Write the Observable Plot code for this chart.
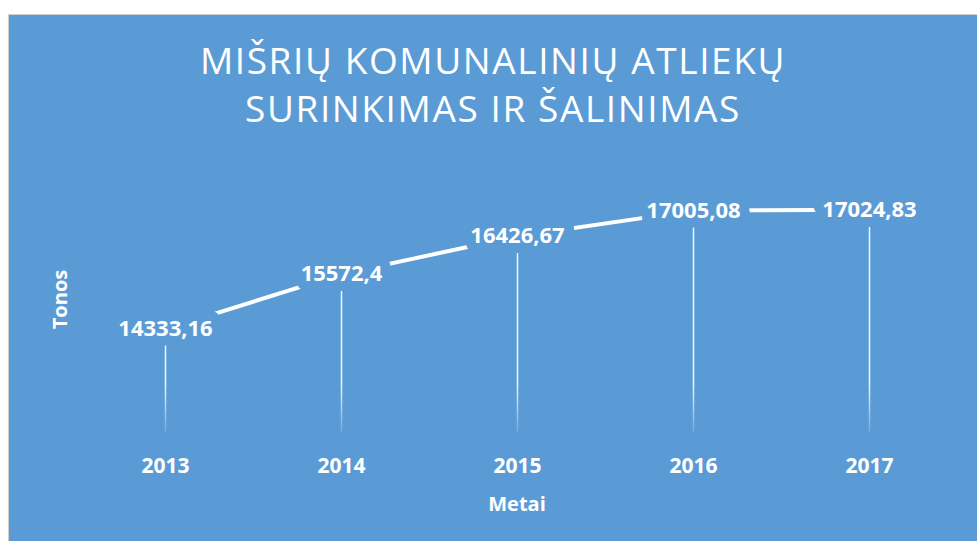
<!DOCTYPE html>
<html>
<head>
<meta charset="utf-8">
<script src="https://cdn.jsdelivr.net/npm/d3@7"></script>
<script src="https://cdn.jsdelivr.net/npm/@observablehq/plot@0.6"></script>
<style>
  html, body { margin: 0; padding: 0; background: #ffffff; width: 977px; height: 541px; overflow: hidden; }
  #box {
    position: absolute; left: 8px; top: 14px; width: 969px; height: 527px;
    background: #5B9BD5; border-left: 1px solid #cfcfcf; border-top: 1px solid #cfcfcf;
    box-sizing: border-box; font-family: "Open Sans", sans-serif;
  }
  #title {
    height: 130px; box-sizing: border-box; padding-top: 21px;
    text-align: center; color: #ffffff; font-size: 37px; line-height: 48px;
    letter-spacing: 1.6px; font-weight: 400;
  }
  #chart svg { display: block; }
</style>
</head>
<body>
<div id="box">
  <div id="title">MIŠRIŲ KOMUNALINIŲ ATLIEKŲ<br>SURINKIMAS IR ŠALINIMAS</div>
  <div id="chart"></div>
</div>
<script>
const years = ["2013", "2014", "2015", "2016", "2017"];
const tonnes = [14333.16, 15572.4, 16426.67, 17005.08, 17024.83];
const valueLabels = ["14333,16", "15572,4", "16426,67", "17005,08", "17024,83"];
const yAxisTitle = "Tonos";
const xAxisTitle = "Metai";

const data = years.map((y, i) => ({year: y, value: tonnes[i], label: valueLabels[i]}));
const bg = "#5B9BD5";

const chart = Plot.plot({
  width: 968,
  height: 396,
  marginLeft: 154,
  marginRight: 107,
  marginTop: 21,
  marginBottom: 109,
  style: {background: "transparent", color: "#ffffff", fontFamily: "Open Sans, sans-serif"},
  x: {type: "point", domain: years, padding: 0},
  y: {domain: [12000, 18000], axis: null},
  marks: [
    Plot.ruleX(data, {x: "year", y1: 12000, y2: "value", stroke: "url(#dropfade)", strokeWidth: 1.5}),
    Plot.line(data, {x: "year", y: "value", stroke: "#ffffff", strokeWidth: 4}),
    Plot.text(data, {x: "year", y: "value", text: "label", fill: "#ffffff", stroke: bg, strokeWidth: 20,
      fontSize: 22, fontWeight: "bold"}),
    Plot.axisX({tickSize: 0, tickPadding: 26, fontSize: 21, fontWeight: "bold", label: null}),
    Plot.text([xAxisTitle], {frameAnchor: "bottom", dy: 78, fill: "#ffffff", fontSize: 20, fontWeight: "bold"}),
    Plot.text([yAxisTitle], {frameAnchor: "left", textAnchor: "middle", dx: -103, rotate: -90, fill: "#ffffff", fontSize: 20, fontWeight: "bold"})
  ]
});

// gradient for the fading drop lines
const svg = d3.select(chart);
const defs = svg.insert("defs", ":first-child");
const g = defs.append("linearGradient").attr("id", "dropfade")
  .attr("gradientUnits", "userSpaceOnUse").attr("x1", 0).attr("x2", 0).attr("y1", 240).attr("y2", 287);
g.append("stop").attr("offset", "0").attr("stop-color", "#ffffff").attr("stop-opacity", 0.9);
g.append("stop").attr("offset", "1").attr("stop-color", "#ffffff").attr("stop-opacity", 0.15);

document.getElementById("chart").appendChild(chart);
</script>
</body>
</html>
